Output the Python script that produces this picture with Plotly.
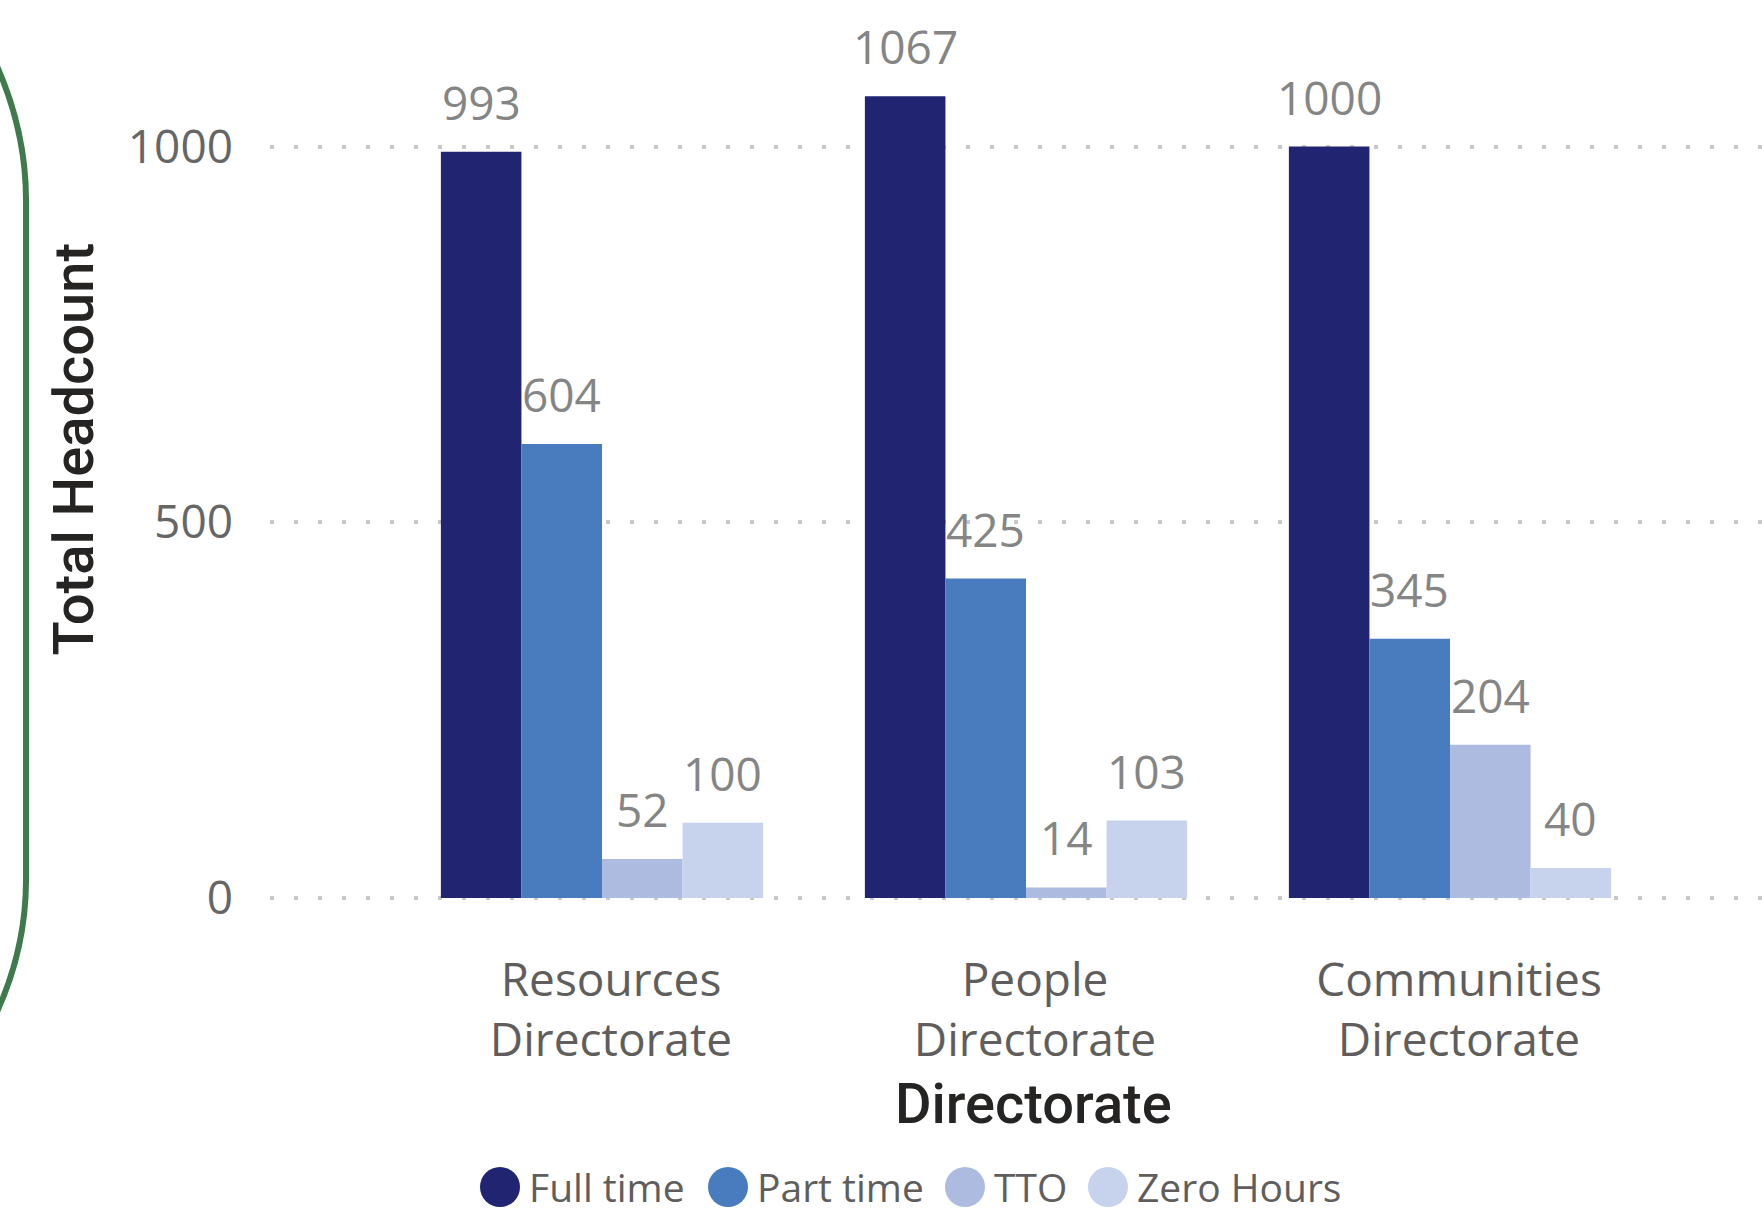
import plotly.graph_objects as go

# ---- data -------------------------------------------------------------
categories = ["Resources Directorate", "People Directorate", "Communities Directorate"]
category_labels = ["Resources<br>Directorate", "People<br>Directorate", "Communities<br>Directorate"]
series_names = ["Full time", "Part time", "TTO", "Zero Hours"]
full_time = [993, 1067, 1000]
part_time = [604, 425, 345]
tto = [52, 14, 204]
zero_hours = [100, 103, 40]
series_values = [full_time, part_time, tto, zero_hours]
y_ticks = [0, 500, 1000]

# ---- styling ----------------------------------------------------------
series_colors = ["#212470", "#487CBE", "#ADBBE0", "#C7D3EC"]
W, H = 1762, 1213
PLOT_LEFT, ZERO_Y = 270, 898      # pixel position of the value axis origin
PLOT_BOTTOM = 903                 # a little room below zero so its grid line shows
PX_PER_UNIT = 0.7515
BARGAP = 0.24
LABEL_FONT = "Open Sans"
TITLE_FONT = "Roboto"


def px_x(px):
    return px / W


def px_y(py):
    return 1 - py / H


x_idx = list(range(len(categories)))
n_series = len(series_names)
bar_w = (1 - BARGAP) / n_series

fig = go.Figure()
for name, vals, color in zip(series_names, series_values, series_colors):
    fig.add_trace(go.Bar(
        x=x_idx, y=vals, name=name, marker=dict(color=color, line=dict(width=0)),
        showlegend=False, hovertemplate="%{y}<extra>" + name + "</extra>",
    ))

annotations = []
# value labels above each bar
for i, vals in enumerate(series_values):
    off = (i - (n_series - 1) / 2) * bar_w
    for j, v in enumerate(vals):
        annotations.append(dict(
            x=x_idx[j] + off, y=v, xref="x", yref="y", text=str(v),
            showarrow=False, xanchor="center", yanchor="bottom", yshift=17,
            font=dict(family=LABEL_FONT, size=46, color="#858585"),
        ))

# axis titles
annotations.append(dict(
    x=px_x(1033), y=px_y(1104), xref="paper", yref="paper", text="Directorate",
    showarrow=False, xanchor="center", yanchor="middle",
    font=dict(family=TITLE_FONT, size=56, color="#252423", weight=500),
))
annotations.append(dict(
    x=px_x(73.5), y=px_y(449), xref="paper", yref="paper", text="Total Headcount",
    showarrow=False, xanchor="center", yanchor="middle", textangle=-90,
    font=dict(family=TITLE_FONT, size=56, color="#252423", weight=500),
))

# legend: round swatches with labels
legend_cx = [500, 728, 965, 1108]
legend_cy = 1187
legend_r = 20
shapes = []
for name, color, cx in zip(series_names, series_colors, legend_cx):
    shapes.append(dict(
        type="circle", xref="paper", yref="paper",
        x0=px_x(cx - legend_r), x1=px_x(cx + legend_r),
        y0=px_y(legend_cy + legend_r), y1=px_y(legend_cy - legend_r),
        fillcolor=color, line=dict(width=0),
    ))
    annotations.append(dict(
        x=px_x(cx + legend_r + 7), y=px_y(legend_cy - 1), xref="paper", yref="paper",
        text=name, showarrow=False, xanchor="left", yanchor="middle",
        font=dict(family=LABEL_FONT, size=39, color="#605E5C"),
    ))

# green frame edge on the left
frame_pts = [(-4, 64), (26, 131), (26, 200), (26, 880), (26, 949), (-4, 1014)]
p = [(px_x(a), px_y(b)) for a, b in frame_pts]
frame_path = (
    f"M {p[0][0]},{p[0][1]} Q {p[1][0]},{p[1][1]} {p[2][0]},{p[2][1]} "
    f"L {p[3][0]},{p[3][1]} Q {p[4][0]},{p[4][1]} {p[5][0]},{p[5][1]}"
)
shapes.append(dict(type="path", xref="paper", yref="paper", path=frame_path,
                   line=dict(color="#3E7A4C", width=6)))

cat_px = 424  # pixel width of one category slot
x_range = [(PLOT_LEFT - 602) / cat_px, (W - 602) / cat_px]
y_range = [-(PLOT_BOTTOM - ZERO_Y) / PX_PER_UNIT, ZERO_Y / PX_PER_UNIT]

fig.update_layout(
    width=W, height=H,
    margin=dict(l=0, r=0, t=0, b=0),
    paper_bgcolor="white", plot_bgcolor="white",
    barmode="group", bargap=BARGAP, bargroupgap=0,
    font=dict(family=LABEL_FONT),
    xaxis=dict(
        domain=[px_x(PLOT_LEFT), 1], range=x_range,
        tickmode="array", tickvals=x_idx, ticktext=category_labels,
        tickfont=dict(family=LABEL_FONT, size=46, color="#605E5C"),
        showgrid=False, zeroline=False, showline=False, ticks="",
        ticklabelstandoff=46, ticklabelshift=9, automargin=False,
    ),
    yaxis=dict(
        domain=[px_y(PLOT_BOTTOM), 1], range=y_range,
        tickmode="array", tickvals=y_ticks,
        tickfont=dict(family=LABEL_FONT, size=46, color="#666666"),
        showgrid=True, gridcolor="#C8C8C8", gridwidth=4, griddash="4px,20px",
        zeroline=False, showline=False, ticks="",
        ticklabelstandoff=36, automargin=False,
    ),
    annotations=annotations,
    shapes=shapes,
    showlegend=False,
)

fig.write_html("out.html")
